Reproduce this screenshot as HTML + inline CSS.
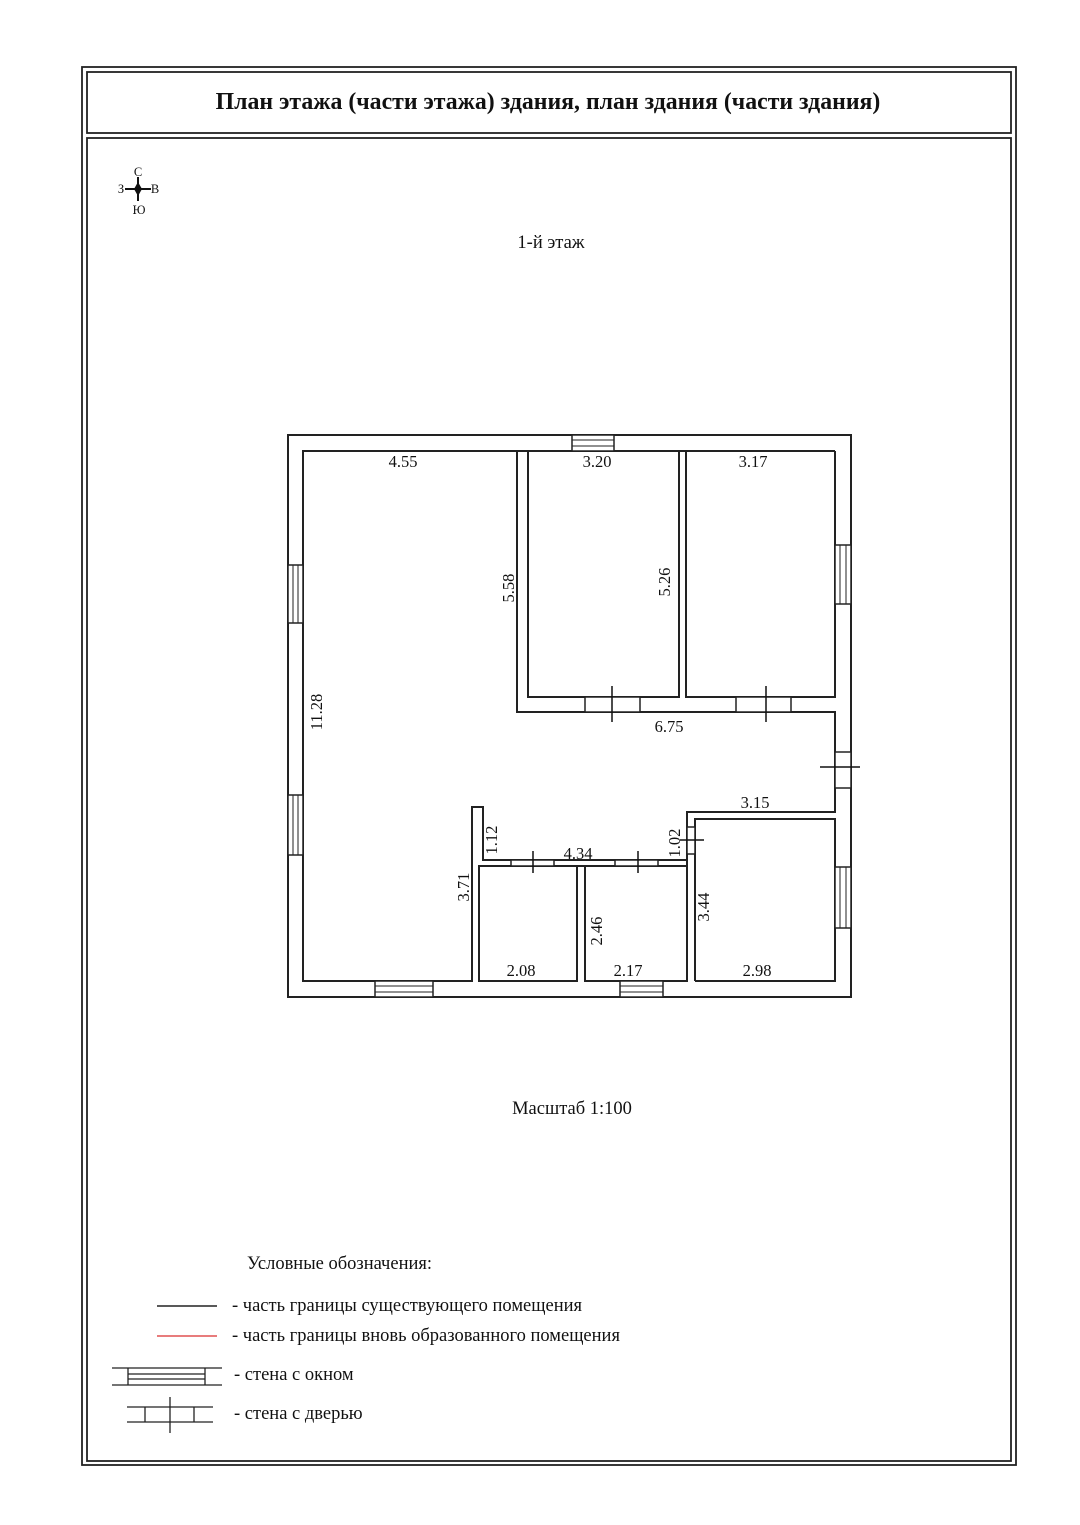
<!DOCTYPE html>
<html><head><meta charset="utf-8"><style>
body{margin:0;background:#fff}
svg{display:block}
text{font-family:"Liberation Serif",serif;fill:#111}
</style></head><body>
<svg width="1080" height="1525" viewBox="0 0 1080 1525" xmlns="http://www.w3.org/2000/svg">
<g fill="none" stroke="#222" stroke-width="1.8">
<rect x="82" y="67" width="934" height="1398"/>
<rect x="87" y="72" width="924" height="61"/>
<rect x="87" y="138" width="924" height="1323"/>
</g>
<text x="548" y="109" font-size="23.8" font-weight="bold" text-anchor="middle">План этажа (части этажа) здания, план здания (части здания)</text>
<!-- compass -->
<g stroke="#111" stroke-width="2">
<line x1="125" y1="189" x2="151" y2="189"/><line x1="138" y1="177" x2="138" y2="201"/>
</g>
<polygon points="138,182 142,189 138,196 134,189" fill="#111"/>
<text x="138" y="176" font-size="12.5" text-anchor="middle">С</text>
<text x="121" y="193" font-size="12.5" text-anchor="middle">З</text>
<text x="155" y="193" font-size="12.5" text-anchor="middle">В</text>
<text x="139" y="214" font-size="12.5" text-anchor="middle">Ю</text>
<text x="551" y="248" font-size="18.5" text-anchor="middle">1-й этаж</text>

<g fill="none" stroke="#222" stroke-width="2">
<rect x="288" y="435" width="563" height="562"/>
<polyline points="517,451 303,451 303,981 472,981 472,807 483,807 483,860 687,860 687,812 835,812 835,712 517,712 517,451"/>
<polyline points="517,451 528,451 528,697 679,697 679,451 686,451 686,697 835,697 835,451"/>
<line x1="528" y1="451" x2="679" y2="451"/>
<line x1="686" y1="451" x2="835" y2="451"/>
<rect x="479" y="866" width="98" height="115"/>
<rect x="585" y="866" width="102" height="115"/>
<polyline points="695,981 695,819 835,819 835,981 695,981"/>
<line x1="687" y1="860" x2="687" y2="981"/>
<line x1="483" y1="866" x2="687" y2="866"/>
</g>
<g fill="#fff" stroke="#222" stroke-width="1.5">
<rect x="572" y="435" width="42" height="16"/>
<rect x="288" y="565" width="15" height="58"/>
<rect x="288" y="795" width="15" height="60"/>
<rect x="835" y="545" width="16" height="59"/>
<rect x="835" y="867" width="16" height="61"/>
<rect x="375" y="981" width="58" height="16"/>
<rect x="620" y="981" width="43" height="16"/>
</g>
<g stroke="#222" stroke-width="1">
<line x1="572" y1="440" x2="614" y2="440"/><line x1="572" y1="446" x2="614" y2="446"/>
<line x1="293" y1="565" x2="293" y2="623"/><line x1="298" y1="565" x2="298" y2="623"/>
<line x1="293" y1="795" x2="293" y2="855"/><line x1="298" y1="795" x2="298" y2="855"/>
<line x1="840" y1="545" x2="840" y2="604"/><line x1="846" y1="545" x2="846" y2="604"/>
<line x1="840" y1="867" x2="840" y2="928"/><line x1="846" y1="867" x2="846" y2="928"/>
<line x1="375" y1="986" x2="433" y2="986"/><line x1="375" y1="992" x2="433" y2="992"/>
<line x1="620" y1="986" x2="663" y2="986"/><line x1="620" y1="992" x2="663" y2="992"/>
</g>
<g fill="#fff" stroke="#222" stroke-width="1.5">
<rect x="585" y="697" width="55" height="15"/>
<rect x="736" y="697" width="55" height="15"/>
<rect x="835" y="752" width="16" height="36"/>
<rect x="511" y="860" width="43" height="6"/>
<rect x="615" y="860" width="43" height="6"/>
<rect x="687" y="827" width="8" height="27"/>
</g>
<g stroke="#111" stroke-width="1.5">
<line x1="612" y1="686" x2="612" y2="722"/>
<line x1="766" y1="686" x2="766" y2="722"/>
<line x1="820" y1="767" x2="860" y2="767"/>
<line x1="533" y1="851" x2="533" y2="873"/>
<line x1="638" y1="851" x2="638" y2="873"/>
<line x1="680" y1="840" x2="704" y2="840"/>
</g>
<g font-size="16.5" text-anchor="middle">
<text x="403" y="467">4.55</text>
<text x="597" y="467">3.20</text>
<text x="753" y="467">3.17</text>
<text x="669" y="732">6.75</text>
<text x="755" y="808">3.15</text>
<text x="578" y="859">4.34</text>
<text x="521" y="976">2.08</text>
<text x="628" y="976">2.17</text>
<text x="757" y="976">2.98</text>
<text transform="translate(514,588) rotate(-90)">5.58</text>
<text transform="translate(670,582) rotate(-90)">5.26</text>
<text transform="translate(322,712) rotate(-90)">11.28</text>
<text transform="translate(497,840) rotate(-90)">1.12</text>
<text transform="translate(680,843) rotate(-90)">1.02</text>
<text transform="translate(469,887) rotate(-90)">3.71</text>
<text transform="translate(602,931) rotate(-90)">2.46</text>
<text transform="translate(709,907) rotate(-90)">3.44</text>
</g>
<text x="572" y="1114" font-size="18.5" text-anchor="middle">Масштаб 1:100</text>
<g font-size="18.5">
<text x="247" y="1269">Условные обозначения:</text>
<text x="232" y="1311">- часть границы существующего помещения</text>
<text x="232" y="1341">- часть границы вновь образованного помещения</text>
<text x="234" y="1380">- стена с окном</text>
<text x="234" y="1419">- стена с дверью</text>
</g>
<line x1="157" y1="1306" x2="217" y2="1306" stroke="#222" stroke-width="1.5"/>
<line x1="157" y1="1336" x2="217" y2="1336" stroke="#e05050" stroke-width="1.5"/>
<g stroke="#222" stroke-width="1.3">
<line x1="112" y1="1368" x2="222" y2="1368"/><line x1="112" y1="1385" x2="222" y2="1385"/>
<line x1="128" y1="1368" x2="128" y2="1385"/><line x1="205" y1="1368" x2="205" y2="1385"/>
<line x1="128" y1="1374" x2="205" y2="1374"/><line x1="128" y1="1379" x2="205" y2="1379"/>
<line x1="127" y1="1407" x2="213" y2="1407"/><line x1="127" y1="1422" x2="213" y2="1422"/>
<line x1="145" y1="1407" x2="145" y2="1422"/><line x1="194" y1="1407" x2="194" y2="1422"/>
<line x1="170" y1="1397" x2="170" y2="1433"/>
</g>
</svg>
</body></html>
